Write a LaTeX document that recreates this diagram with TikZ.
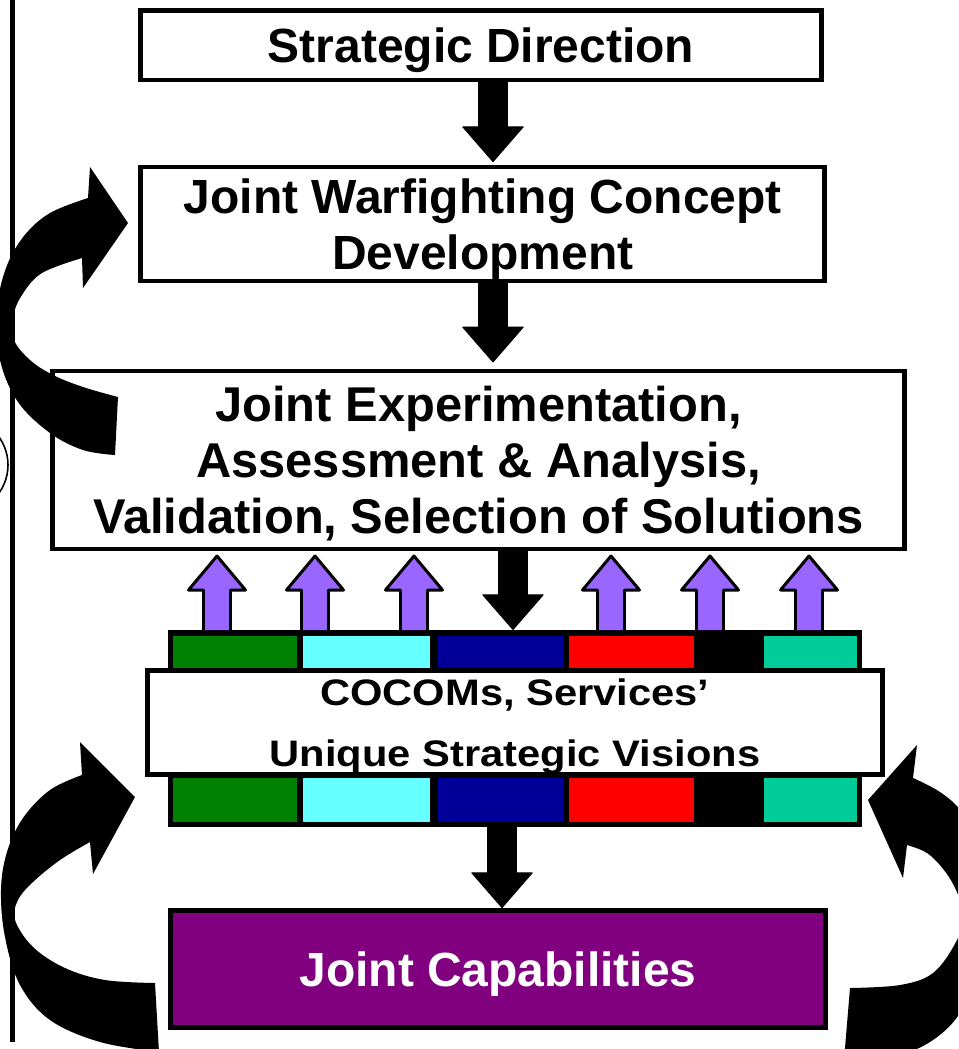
\documentclass[tikz,border=0pt]{standalone}
\usepackage{fontspec}
\setmainfont{Liberation Sans}
\newfontfamily\widefont[FakeStretch=1.13]{Liberation Sans}
\usetikzlibrary{arrows.meta}

\definecolor{barGreen}{RGB}{0,128,0}
\definecolor{barCyan}{RGB}{102,255,255}
\definecolor{barNavy}{RGB}{0,0,153}
\definecolor{barRed}{RGB}{255,0,0}
\definecolor{barTeal}{RGB}{0,204,153}
\definecolor{upPurple}{RGB}{153,102,255}
\definecolor{capPurple}{RGB}{128,0,128}

\tikzset{
	stagebox/.style={draw,line width=2.8pt,fill=white,align=center,inner sep=0pt,text depth=0pt,
		font=\bfseries\fontsize{27.3}{32}\selectfont},
	colorbar/.style={fill=black,inner sep=0pt,outer sep=0pt,minimum width=13.88cm},
	downarrow/.style={line width=17.5pt,-{Triangle[length=20.5pt,width=35.5pt,line width=0.6pt,round]}},
	uparrow/.style={draw,line width=1.7pt,fill=upPurple,line join=round},
	bendarrow/.style={fill=black}
}

\begin{document}
\begin{tikzpicture}[x=0.02cm,y=-0.02cm]
	
	\useasboundingbox (0,0) rectangle (958,1049);
	\clip (0,0) rectangle (958,1049);
	
	% margin rule
	\draw[line width=2.8pt] (12.5,0) -- (12.5,1042);
	\draw[line width=0.9pt] (-40,465) circle (48);
	
	% colour bars
	\node[colorbar,minimum height=0.76cm] (topbar) at (515,649) {};
	\node[colorbar,minimum height=1.1cm] (botbar) at (515,799.5) {};
	\foreach \xa/\xb/\col in {173/297/barGreen,303/430/barCyan,438/564/barNavy,569/694/barRed,764/857/barTeal}{
		\fill[\col] (\xa,636) rectangle (\xb,668);
		\fill[\col] (\xa,778) rectangle (\xb,822);
	}
	
	\node[stagebox,minimum width=13.64cm,minimum height=1.39cm] (sd) at (481,45.25) {Strategic Direction};
	\node[stagebox,minimum width=13.69cm,minimum height=2.28cm,text depth=-3.4pt] (jwc) at (482.75,224) {Joint Warfighting Concept\\Development};
	\node[stagebox,minimum width=17.06cm,minimum height=3.56cm,text depth=-3pt,font=\bfseries\fontsize{27.8}{32}\selectfont] (jeaa) at (478.5,460) {Joint Experimentation,\\Assessment \& Analysis,\\Validation, Selection of Solutions};
	\node[stagebox,minimum width=14.7cm,minimum height=2.08cm,text depth=-4.5pt,font=\widefont\bfseries\fontsize{21}{35}\selectfont] (vis) at (515,722.5) {COCOMs, Services’\\Unique Strategic Visions};
	\node[stagebox,minimum width=13.1cm,minimum height=2.34cm,fill=capPurple,text=white] (cap) at (498,969) {Joint Capabilities};
	
	% arrow columns
	\coordinate (c1) at (493,0);
	\coordinate (c2) at (513,0);
	\coordinate (c3) at (502,0);
	
	\draw[downarrow,shorten >=1.4pt] (sd.south -| c1) -- (jwc.north -| c1);
	\draw[downarrow,shorten >=3.5pt] (jwc.south -| c1) -- (jeaa.north -| c1);
	\draw[downarrow] (jeaa.south -| c2) -- (topbar.north -| c2);
	\draw[downarrow] (botbar.south -| c3) -- (cap.north -| c3);
	
	\foreach \px in {217,315,414,611,710,809}
		\draw[uparrow] ({\px-13.5},630) -- ({\px-13.5},590) -- ({\px-28.5},590) -- (\px,556)
			-- ({\px+28.5},590) -- ({\px+13.5},590) -- ({\px+13.5},630);
	
	% bent arrows
	\fill[bendarrow] (118,397) -- plot[smooth,tension=0.6] coordinates {(118,397) (83,387) (53,375) (30,360) (14,340) (13,317) (22,295) (42,273) (82,258)}
		-- (83,288) -- (128,223) -- (90,167) -- (88,198)
		-- plot[smooth,tension=0.6] coordinates {(88,198) (50,213) (24,236) (6,268) (-3,310) (0,360) (18,402) (50,433) (83,450) (115,455)} -- cycle;
	
	\fill[bendarrow] (155,983) -- plot[smooth,tension=0.6] coordinates {(155,983) (105,980) (65,968) (33,947) (15,920) (18,900) (33,882) (60,860) (90,842)}
		-- (93,874) -- (135,797) -- (80,742) -- (82,775)
		-- plot[smooth,tension=0.6] coordinates {(82,775) (50,790) (23,818) (7,852) (1,890) (5,937) (20,985) (50,1020) (100,1042) (159,1052)} -- cycle;
	
	\fill[bendarrow] (850,988) -- plot[smooth,tension=0.6] coordinates {(850,988) (900,985) (933,973) (956,942) (964,915) (956,890) (944,870) (927,853) (907,845)}
		-- (903,878) -- (868,800) -- (917,745) -- (913,778)
		-- plot[smooth,tension=0.6] coordinates {(913,778) (940,792) (962,812) (980,845) (988,900) (982,960) (962,1010) (933,1040) (895,1056) (844,1060)} -- cycle;
	
\end{tikzpicture}
\end{document}
